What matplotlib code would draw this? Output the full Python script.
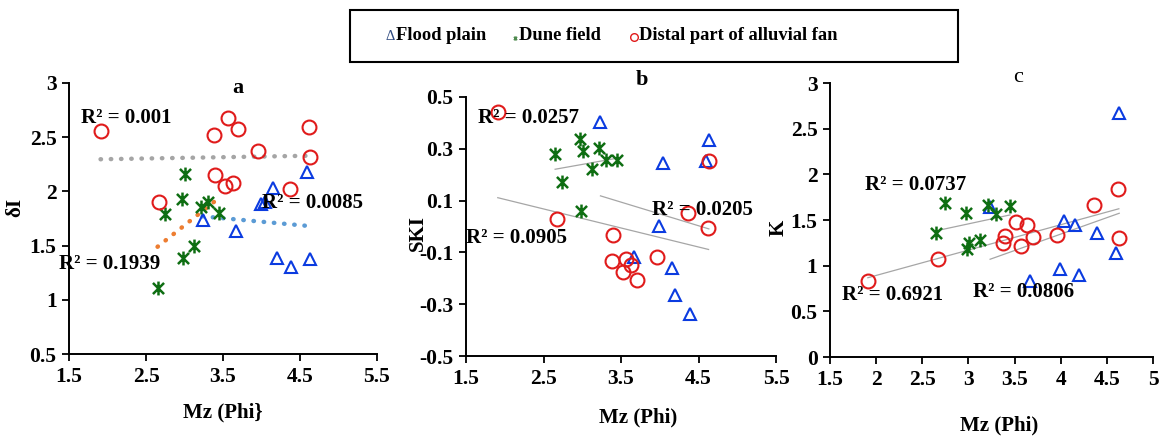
import numpy as np
import matplotlib
matplotlib.use("Agg")
import matplotlib.pyplot as plt
from matplotlib.path import Path
from matplotlib.lines import Line2D
from matplotlib.patches import Rectangle

plt.rcParams['font.family'] = ['Liberation Serif', 'DejaVu Serif']
plt.rcParams['font.weight'] = 'bold'

# ---------------- data ----------------
red_x = [1.91, 2.67, 3.38, 3.40, 3.52, 3.565, 3.63, 3.70, 3.96, 4.365, 4.62, 4.63]
red_dI = [2.557, 1.898, 2.52, 2.147, 2.049, 2.677, 2.073, 2.578, 2.369, 2.018, 2.597, 2.32]
red_SKI = [0.442, 0.028, -0.132, -0.032, -0.175, -0.127, -0.149, -0.207, -0.116, 0.054, -0.005, 0.252]
red_K = [0.836, 1.077, 1.245, 1.321, 1.482, 1.215, 1.445, 1.31, 1.339, 1.668, 1.843, 1.307]

green_x = [2.65, 2.745, 2.97, 2.985, 3.005, 3.125, 3.21, 3.30, 3.45]
green_dI = [1.107, 1.79, 1.932, 1.381, 2.163, 1.494, 1.858, 1.901, 1.805]
green_SKI = [0.278, 0.171, 0.339, 0.060, 0.292, 0.222, 0.303, 0.258, 0.258]
green_K = [1.358, 1.686, 1.577, 1.186, 1.248, 1.277, 1.664, 1.566, 1.653]

blue_x = [3.235, 3.664, 3.996, 4.039, 4.155, 4.203, 4.388, 4.595, 4.634]
blue_dI = [1.735, 1.636, 1.885, 1.90, 2.03, 1.39, 1.30, 2.175, 1.374]
blue_SKI = [0.404, -0.117, 0.001, 0.245, -0.162, -0.265, -0.339, 0.252, 0.335]
blue_K = [1.642, 0.832, 0.96, 1.493, 1.445, 0.894, 1.358, 1.139, 2.675]

legend_labels = ["Flood plain", "Dune field", "Distal part of alluvial fan"]
r2_a = ["R\u00b2 = 0.001", "R\u00b2 = 0.1939", "R\u00b2 = 0.0085"]
r2_b = ["R\u00b2 = 0.0257", "R\u00b2 = 0.0905", "R\u00b2 = 0.0205"]
r2_c = ["R\u00b2 = 0.0737", "R\u00b2 = 0.6921", "R\u00b2 = 0.0806"]

# ---------------- styles ----------------
RED = '#E01B1B'
BLUE = '#0B3BE0'
GREEN = '#0E6E12'
W, H = 1162, 436

star = Path([(-1, -1), (1, 1), (-1, 1), (1, -1), (0, -1.25), (0, 1.25)],
            [Path.MOVETO, Path.LINETO, Path.MOVETO, Path.LINETO, Path.MOVETO, Path.LINETO])

fig = plt.figure(figsize=(W / 100, H / 100), dpi=100)


def px_axes(l, t, r, b):
    return fig.add_axes([l / W, 1 - b / H, (r - l) / W, (b - t) / H])


def ftext(x, y, s, **kw):
    fig.text(x / W, 1 - y / H, s, ha='center', va='center', **kw)


def style_axes(ax, xticks, yticks, xlim, ylim):
    ax.set_xlim(*xlim)
    ax.set_ylim(*ylim)
    ax.set_xticks(xticks)
    ax.set_yticks(yticks)
    ax.set_xticklabels([('%g' % v) for v in xticks])
    ax.set_yticklabels([('%g' % v) for v in yticks])
    for s in ['top', 'right']:
        ax.spines[s].set_visible(False)
    for s in ['left', 'bottom']:
        ax.spines[s].set_linewidth(1.4)
        ax.spines[s].set_color('black')
    ax.tick_params(direction='out', length=5, width=1.3, labelsize=15.5, pad=4)
    for lab in ax.get_xticklabels() + ax.get_yticklabels():
        lab.set_fontweight('bold')
    ax.patch.set_alpha(0)


def scatter_all(ax, yr, yg, yb):
    ax.plot(blue_x, yb, linestyle='none', marker='^', ms=9, mfc='none', mec=BLUE, mew=1.5, zorder=3)
    ax.plot(green_x, yg, linestyle='none', marker=star, ms=10, color=GREEN, mew=1.8, zorder=3)
    ax.plot(red_x, yr, linestyle='none', marker='o', ms=10, mfc='none', mec=RED, mew=1.5, zorder=3)


def trend(ax, x, y, **kw):
    x = np.asarray(x, float)
    y = np.asarray(y, float)
    p = np.polyfit(x, y, 1)
    xs = np.array([x.min(), x.max()])
    ax.plot(xs, np.polyval(p, xs), zorder=2, **kw)


dot = dict(linestyle=(0, (0.1, 2.2)), linewidth=3.2, dash_capstyle='round')
thin = dict(color='#A6A6A6', linewidth=0.9)

# ---------------- panel a ----------------
ax = px_axes(69, 83, 377, 354)
style_axes(ax, [1.5, 2.5, 3.5, 4.5, 5.5], [0.5, 1, 1.5, 2, 2.5, 3], (1.5, 5.5), (0.5, 3))
trend(ax, red_x, red_dI, color='#A5A5A5', **dot)
trend(ax, green_x, green_dI, color='#ED7D31', **dot)
trend(ax, blue_x, blue_dI, color='#5B9BD5', **dot)
scatter_all(ax, red_dI, green_dI, blue_dI)

# ---------------- panel b ----------------
ax = px_axes(466, 97, 776, 356)
style_axes(ax, [1.5, 2.5, 3.5, 4.5, 5.5], [-0.5, -0.3, -0.1, 0.1, 0.3, 0.5], (1.5, 5.5), (-0.5, 0.5))
trend(ax, red_x, red_SKI, **thin)
trend(ax, green_x, green_SKI, **thin)
trend(ax, blue_x, blue_SKI, **thin)
scatter_all(ax, red_SKI, green_SKI, blue_SKI)

# ---------------- panel c ----------------
ax = px_axes(830, 83, 1153, 357)
style_axes(ax, [1.5, 2, 2.5, 3, 3.5, 4, 4.5, 5], [0, 0.5, 1, 1.5, 2, 2.5, 3], (1.5, 5), (0, 3))
trend(ax, red_x, red_K, **thin)
trend(ax, green_x, green_K, **thin)
trend(ax, blue_x, blue_K, **thin)
scatter_all(ax, red_K, green_K, blue_K)

# ---------------- texts ----------------
fs = 15
ftext(238, 88, 'a', fontsize=16, fontweight='bold')
ftext(642, 80, 'b', fontsize=16, fontweight='bold')
ftext(1018, 77, 'c', fontsize=16, fontweight='normal')

ftext(223, 412, 'Mz (Phi}', fontsize=fs, fontweight='bold')
ftext(638, 417, 'Mz (Phi)', fontsize=fs, fontweight='bold')
ftext(999, 425, 'Mz (Phi)', fontsize=fs, fontweight='bold')

ftext(15, 207, '\u03b4I', fontsize=fs, fontweight='bold', rotation=90)
ftext(418, 233, 'SKI', fontsize=fs, fontweight='bold', rotation=90)
ftext(779, 228, 'K', fontsize=fs, fontweight='bold', rotation=90)

for (x, y), s in zip([(126, 118), (110, 264), (312, 203)], r2_a):
    ftext(x, y, s, fontsize=fs, fontweight='bold', zorder=5)
for (x, y), s in zip([(528, 118), (517, 238), (702, 210)], r2_b):
    ftext(x, y, s, fontsize=fs, fontweight='bold', zorder=5)
for (x, y), s in zip([(916, 185), (893, 295), (1024, 292)], r2_c):
    ftext(x, y, s, fontsize=fs, fontweight='bold', zorder=5)

# ---------------- legend ----------------
fig.add_artist(Rectangle((350 / W, 1 - 62 / H), (958 - 350) / W, 52 / H,
                         transform=fig.transFigure, fill=False, edgecolor='black', linewidth=1.5))
ly = 1 - 36 / H
lfs = 13.3
fig.text(385.5 / W, ly, '\u0394', color='#2F4A80', fontsize=10.5, fontweight='normal',
         ha='left', va='center')
fig.text(395.5 / W, ly, legend_labels[0], fontsize=lfs, fontweight='bold', ha='left', va='center')
fig.add_artist(Line2D([515 / W], [1 - 38 / H], transform=fig.transFigure, marker=star, ms=3,
                      color='#4E8A4E', mew=1, linestyle='none'))
fig.text(519 / W, ly, legend_labels[1], fontsize=lfs, fontweight='bold', ha='left', va='center')
fig.add_artist(Line2D([634 / W], [1 - 37 / H], transform=fig.transFigure, marker='o', ms=5.5,
                      mfc='none', mec=RED, mew=1, linestyle='none'))
fig.text(639 / W, ly, legend_labels[2], fontsize=lfs, fontweight='bold', ha='left', va='center')

fig.savefig('out.png', dpi=100)
